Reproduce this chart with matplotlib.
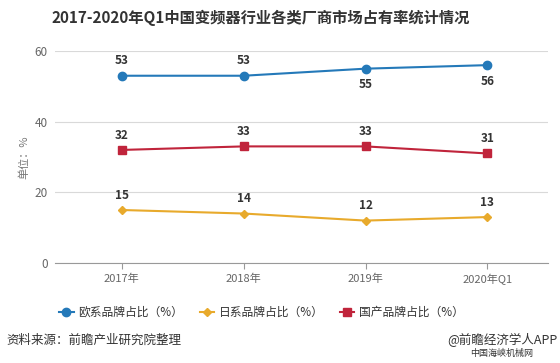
import numpy as np
import matplotlib.pyplot as plt

plt.rcParams['font.family'] = ['Noto Sans CJK SC', 'DejaVu Sans']

categories = ['2017年', '2018年', '2019年', '2020年Q1']
eu_share = [53, 53, 55, 56]
jp_share = [15, 14, 12, 13]
cn_share = [32, 33, 33, 31]
eu_label_below = [False, False, True, True]

blue = '#2479b9'
yellow = '#e8aa2c'
red = '#c0243b'

fig = plt.figure(figsize=(5.6, 3.63), dpi=100)
ax = fig.add_axes([0.098, 0.2755, 0.881, 0.584])
x = np.arange(len(categories))

ax.plot(x, eu_share, color=blue, marker='o', markersize=6, lw=1.5, label='欧系品牌占比（%）', zorder=3)
ax.plot(x, jp_share, color=yellow, marker='D', markersize=4.5, lw=1.5, label='日系品牌占比（%）', zorder=3)
ax.plot(x, cn_share, color=red, marker='s', markersize=6, lw=1.5, label='国产品牌占比（%）', zorder=3)

for i, v in enumerate(eu_share):
    if eu_label_below[i]:
        ax.annotate(str(v), (x[i], v), xytext=(0, -7), textcoords='offset points',
                    ha='center', va='top', fontsize=8.5, fontweight='bold', color='#333333')
    else:
        ax.annotate(str(v), (x[i], v), xytext=(0, 6), textcoords='offset points',
                    ha='center', va='bottom', fontsize=8.5, fontweight='bold', color='#333333')
for series in (jp_share, cn_share):
    for i, v in enumerate(series):
        ax.annotate(str(v), (x[i], v), xytext=(0, 6), textcoords='offset points',
                    ha='center', va='bottom', fontsize=8.5, fontweight='bold', color='#333333')

ax.set_xlim(-0.55, 3.5)
ax.set_ylim(0, 60)
ax.set_yticks([0, 20, 40, 60])
ax.set_xticks(x)
ax.set_xticklabels(categories)
ax.grid(axis='y', color='#d9d9d9', lw=0.8)
ax.set_axisbelow(True)
for s in ['top', 'right', 'left']:
    ax.spines[s].set_visible(False)
ax.spines['bottom'].set_color('#999999')
ax.tick_params(axis='y', length=0, labelsize=8.5, labelcolor='#666666', pad=5)
ax.tick_params(axis='x', length=4, color='#999999', labelsize=8, labelcolor='#666666', pad=4)
ax.set_ylabel('单位：%', fontsize=8, color='#777777', labelpad=4)

fig.text(0.466, 0.95, '2017-2020年Q1中国变频器行业各类厂商市场占有率统计情况', ha='center', va='center',
         fontsize=11, fontweight='bold', color='#333333')

fig.legend(loc='center', bbox_to_anchor=(0.467, 0.14), ncol=3, frameon=False, fontsize=8.5,
           handlelength=1.2, handletextpad=0.4, columnspacing=1.4, labelcolor='#333333')

fig.text(0.012, 0.063, '资料来源：前瞻产业研究院整理', ha='left', va='center', fontsize=9, color='#333333')
fig.text(0.995, 0.063, '@前瞻经济学人APP', ha='right', va='center', fontsize=9, color='#333333')
fig.text(0.895, 0.027, '中国海峡机械网', ha='center', va='center', fontsize=6.5, color='#333333')

fig.savefig('out.png', dpi=100)
